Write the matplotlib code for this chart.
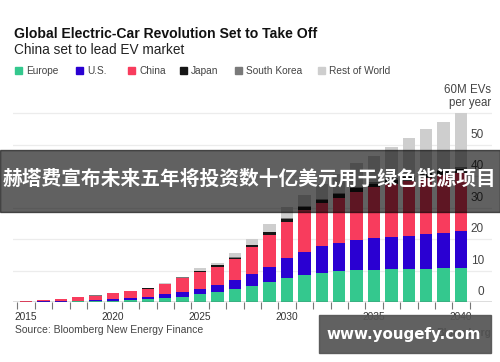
import numpy as np
import matplotlib
matplotlib.use('Agg')
import matplotlib.pyplot as plt
from matplotlib.patches import Rectangle
import matplotlib.transforms as mtransforms

plt.rcParams['font.family'] = ['Liberation Sans', 'DejaVu Sans']

years = list(range(2015, 2041))
europe = [0.15, 0.2, 0.25, 0.3, 0.4, 0.5, 0.6, 1.0, 1.5, 1.8, 2.5, 3.2, 4.1,
          5.2, 6.3, 7.8, 8.7, 9.4, 9.9, 10.2, 10.4, 10.5, 10.6, 10.7, 10.8, 11.0]
us = [0.05, 0.1, 0.15, 0.2, 0.3, 0.7, 0.8, 0.8, 1.1, 1.4, 1.7, 2.3, 3.0,
      3.8, 5.0, 6.2, 7.4, 8.5, 9.0, 9.7, 9.9, 10.2, 10.6, 11.0, 11.3, 11.6]
china = [0.2, 0.4, 0.7, 1.1, 1.4, 1.6, 2.1, 2.5, 3.2, 4.4, 5.3, 5.8, 6.5,
         8.4, 10.1, 11.5, 13.2, 13.5, 14.3, 15.1, 16.2, 16.9, 17.4, 17.9, 18.2, 18.4]
japan = [0.05, 0.05, 0.05, 0.05, 0.05, 0.1, 0.1, 0.1, 0.1, 0.2, 0.4, 0.5, 0.6,
         0.7, 0.8, 0.9, 1.0, 1.1, 1.2, 1.2, 1.2, 1.3, 1.3, 1.3, 1.3, 1.3]
south_korea = [0.02, 0.02, 0.02, 0.03, 0.03, 0.05, 0.05, 0.05, 0.05, 0.1, 0.1, 0.1, 0.15,
               0.2, 0.2, 0.3, 0.3, 0.3, 0.35, 0.4, 0.4, 0.45, 0.5, 0.5, 0.55, 0.6]
rest_of_world = [0.03, 0.08, 0.03, 0.02, 0.02, 0.05, 0.05, 0.05, 0.05, 0.2, 0.8, 0.7, 1.35,
                 1.7, 2.4, 3.5, 3.5, 4.8, 5.95, 7.5, 8.4, 10.05, 11.9, 13.5, 15.15, 17.3]

series = [('Europe', europe, '#34c88e'),
          ('U.S.', us, '#2a00d2'),
          ('China', china, '#f83c5d'),
          ('Japan', japan, '#161616'),
          ('South Korea', south_korea, '#7a7a7a'),
          ('Rest of World', rest_of_world, '#cecece')]

W, H = 500, 362
fig = plt.figure(figsize=(W / 100, H / 100), dpi=100)

def fx(px):
    return px / W

def fy(py):
    return 1 - py / H

ax = fig.add_axes([fx(13), fy(302.3), fx(479), 61 * 3.15 / H])

bottom = np.zeros(len(years))
for name, vals, col in series:
    ax.bar(years, vals, bottom=bottom, width=0.72, color=col, linewidth=0, zorder=3)
    bottom += np.array(vals)

ax.set_xlim(2014.253, 2041.78)
ax.set_ylim(0, 61)

for s in ax.spines.values():
    s.set_visible(False)

# gridlines
yt = [10, 20, 30, 40, 50, 60]
for v in yt:
    ax.axhline(v, color='#ececec', lw=0.9, zorder=1)
ax.axhline(0, color='#555555', lw=1.0, zorder=4)

ax.set_yticks([])
ax.set_xticks([2015, 2020, 2025, 2030, 2035, 2040])
ax.set_xticklabels(['2015', '2020', '2025', '2030', '2035', '2040'])
ax.set_xticks(np.arange(2014.5, 2041, 1), minor=True)
ax.tick_params(axis='x', which='major', length=0, pad=7, labelsize=7.3, labelcolor='#333333')
ax.tick_params(axis='x', which='minor', length=5, width=0.8, color='#777777')

# y labels above gridlines on the right
off = mtransforms.offset_copy(ax.transData, fig=fig, x=0, y=3, units='points')
trans = mtransforms.blended_transform_factory(ax.transAxes, off)
for v in [0, 10, 20, 30, 40, 50]:
    ax.text(0.983, v, str(v), transform=trans, ha='right', va='bottom',
            fontsize=8.5, color='#444444', zorder=2)
ax.text(0.998, 60, '60M EVs\nper year', transform=trans, ha='right', va='bottom',
        fontsize=8.3, color='#444444', linespacing=1.1, zorder=2)

# titles
fig.text(fx(14), fy(33.5), 'Global Electric-Car Revolution Set to Take Off',
         fontsize=10.1, fontweight='bold', color='#111111', va='center')
fig.text(fx(14), fy(50), 'China set to lead EV market',
         fontsize=9.8, color='#222222', va='center')

# legend
leg_x = [15, 76, 128, 180, 235, 318]
for (name, vals, col), lx in zip(series, leg_x):
    fig.patches.append(Rectangle((fx(lx), fy(74)), fx(7), 7 / H, transform=fig.transFigure,
                                 color=col, figure=fig))
    fig.text(fx(lx + 11), fy(70.7), name, fontsize=7.3, color='#444444', va='center')

fig.text(fx(15), fy(330), 'Source: Bloomberg New Energy Finance',
         fontsize=7.5, color='#444444', va='center')
fig.text(fx(491), fy(333), 'Bloomberg', fontsize=7.5, fontweight='bold',
         color='#222222', va='center', ha='right')

# overlay banner
fig.patches.append(Rectangle((0, fy(212)), 1, 62 / H, transform=fig.transFigure,
                             color='#000000', alpha=0.62, figure=fig, zorder=10))
fig.text(0.5, fy(179), '赫塔费宣布未来五年将投资数十亿美元用于绿色能源项目',
         family=['Noto Sans CJK SC', 'DejaVu Sans'], fontweight='bold',
         fontsize=14.2, color='white', ha='center', va='center', zorder=11)

# watermark box
fig.patches.append(Rectangle((fx(319), fy(353)), fx(172), 38 / H, transform=fig.transFigure,
                             color='#555555', alpha=0.93, figure=fig, zorder=10))
fig.text(fx(404), fy(335), 'www.yougefy.com', family='DejaVu Sans', fontweight='bold',
         fontsize=10.9, color='white', ha='center', va='center', zorder=11)

fig.savefig('out.png', dpi=100)
